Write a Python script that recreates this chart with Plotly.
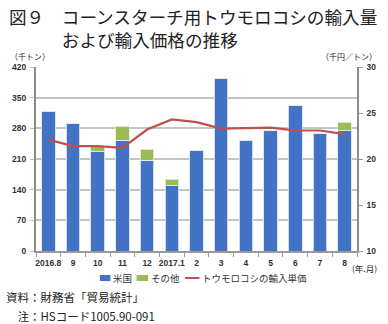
import plotly.graph_objects as go

months = ["2016.8", "9", "10", "11", "12", "2017.1", "2", "3", "4", "5", "6", "7", "8"]
us_volume = [318, 291, 227, 253, 207, 149, 230, 393, 253, 275, 332, 268, 274]
other_volume = [1, 0, 12, 32, 25, 15, 0, 0, 0, 0, 0, 0, 20]
unit_price = [22.1, 21.4, 21.4, 21.2, 23.2, 24.3, 24.0, 23.3, 23.35, 23.4, 23.1, 23.1, 22.7]
left_ticks = [0, 70, 140, 210, 280, 350, 420]
right_ticks = [10, 15, 20, 25, 30]
series_names = ["米国", "その他", "トウモロコシの輸入単価"]
series_colors = ["#4472C4", "#9BBB59", "#C0504D"]

W, H = 388, 324
L, R, T, B = 33, 365, 67, 251
FONT = "Noto Sans CJK JP"
TICKFONT = "Liberation Sans"


def px(x):
    return (x - L) / (R - L)


def py(y):
    return (B - y) / (B - T)


fig = go.Figure()
fig.add_trace(go.Bar(
    x=months, y=us_volume, name=series_names[0],
    marker=dict(color=series_colors[0], line=dict(color="rgba(220,230,245,0.9)", width=1)),
))
fig.add_trace(go.Bar(
    x=months, y=other_volume, name=series_names[1],
    marker=dict(color=series_colors[1], line=dict(color="rgba(230,240,220,0.9)", width=1)),
))
fig.add_trace(go.Scatter(
    x=months, y=unit_price, name=series_names[2], yaxis="y2",
    mode="lines", line=dict(color=series_colors[2], width=2.2),
))

tickfont = dict(family=TICKFONT, size=8.5, color="#333333", weight="bold")

fig.update_layout(
    width=W, height=H,
    margin=dict(l=L, r=W - R, t=T, b=H - B),
    paper_bgcolor="white", plot_bgcolor="white",
    barmode="stack", bargap=0.45,
    showlegend=False,
    xaxis=dict(
        type="category", tickfont=tickfont, ticks="outside", tickson="boundaries",
        ticklen=4, tickcolor="#999999", showline=True, linecolor="#999999", linewidth=1.5,
        showgrid=False, tickangle=0, ticklabelstandoff=3,
    ),
    yaxis=dict(
        range=[0, 420], tickvals=left_ticks, tickfont=tickfont, showgrid=True,
        gridcolor="#C4C4C4", gridwidth=1.5,
        showline=True, linecolor="#8c8c8c", linewidth=2, ticks="outside",
        ticklen=4, tickcolor="#BFBFBF", zeroline=False, ticklabelstandoff=2,
    ),
    yaxis2=dict(
        range=[10, 30], tickvals=right_ticks, overlaying="y", side="right",
        tickfont=tickfont, showgrid=False, showline=True, linecolor="#8c8c8c",
        linewidth=1.5, ticks="outside", ticklen=4, tickcolor="#999999", zeroline=False,
        ticklabelstandoff=2,
    ),
)

# legend (manual, below the plot)
legend_y = py(278)
fig.add_shape(type="rect", xref="paper", yref="paper", x0=px(99), x1=px(110),
              y0=py(281), y1=py(275), fillcolor=series_colors[0], line=dict(width=0))
fig.add_shape(type="rect", xref="paper", yref="paper", x0=px(137), x1=px(149),
              y0=py(281), y1=py(275), fillcolor=series_colors[1], line=dict(width=0))
fig.add_shape(type="line", xref="paper", yref="paper", x0=px(187), x1=px(202),
              y0=legend_y, y1=legend_y, line=dict(color=series_colors[2], width=2))
for name, xpos in zip(series_names, [111, 150, 203]):
    fig.add_annotation(text=name, x=px(xpos), y=legend_y, xref="paper", yref="paper",
                       xanchor="left", yanchor="middle", showarrow=False,
                       font=dict(family=FONT, size=9.5, color="#333333"))

anns = [
    dict(text="図９　コーンスターチ用トウモロコシの輸入量", x=px(3), y=py(17), size=17.6, anchor="left"),
    dict(text="　　　および輸入価格の推移", x=px(3), y=py(39), size=17.6, anchor="left"),
    dict(text="（千トン）", x=px(4), y=py(56), size=8, anchor="left"),
    dict(text="（千円／トン）", x=px(388), y=py(56), size=8, anchor="right"),
    dict(text="(年.月)", x=px(388), y=py(268), size=8.5, anchor="right"),
    dict(text="資料：財務省「貿易統計」", x=px(0), y=py(297), size=11.5, anchor="left"),
    dict(text="　注：HSコード1005.90-091", x=px(0), y=py(316), size=11.5, anchor="left"),
]
for a in anns:
    fig.add_annotation(
        text=a["text"], x=a["x"], y=a["y"], xref="paper", yref="paper",
        xanchor=a["anchor"], yanchor="middle", showarrow=False,
        font=dict(family=FONT, size=a["size"], color="#222222"),
    )

fig.write_html("out.html")
